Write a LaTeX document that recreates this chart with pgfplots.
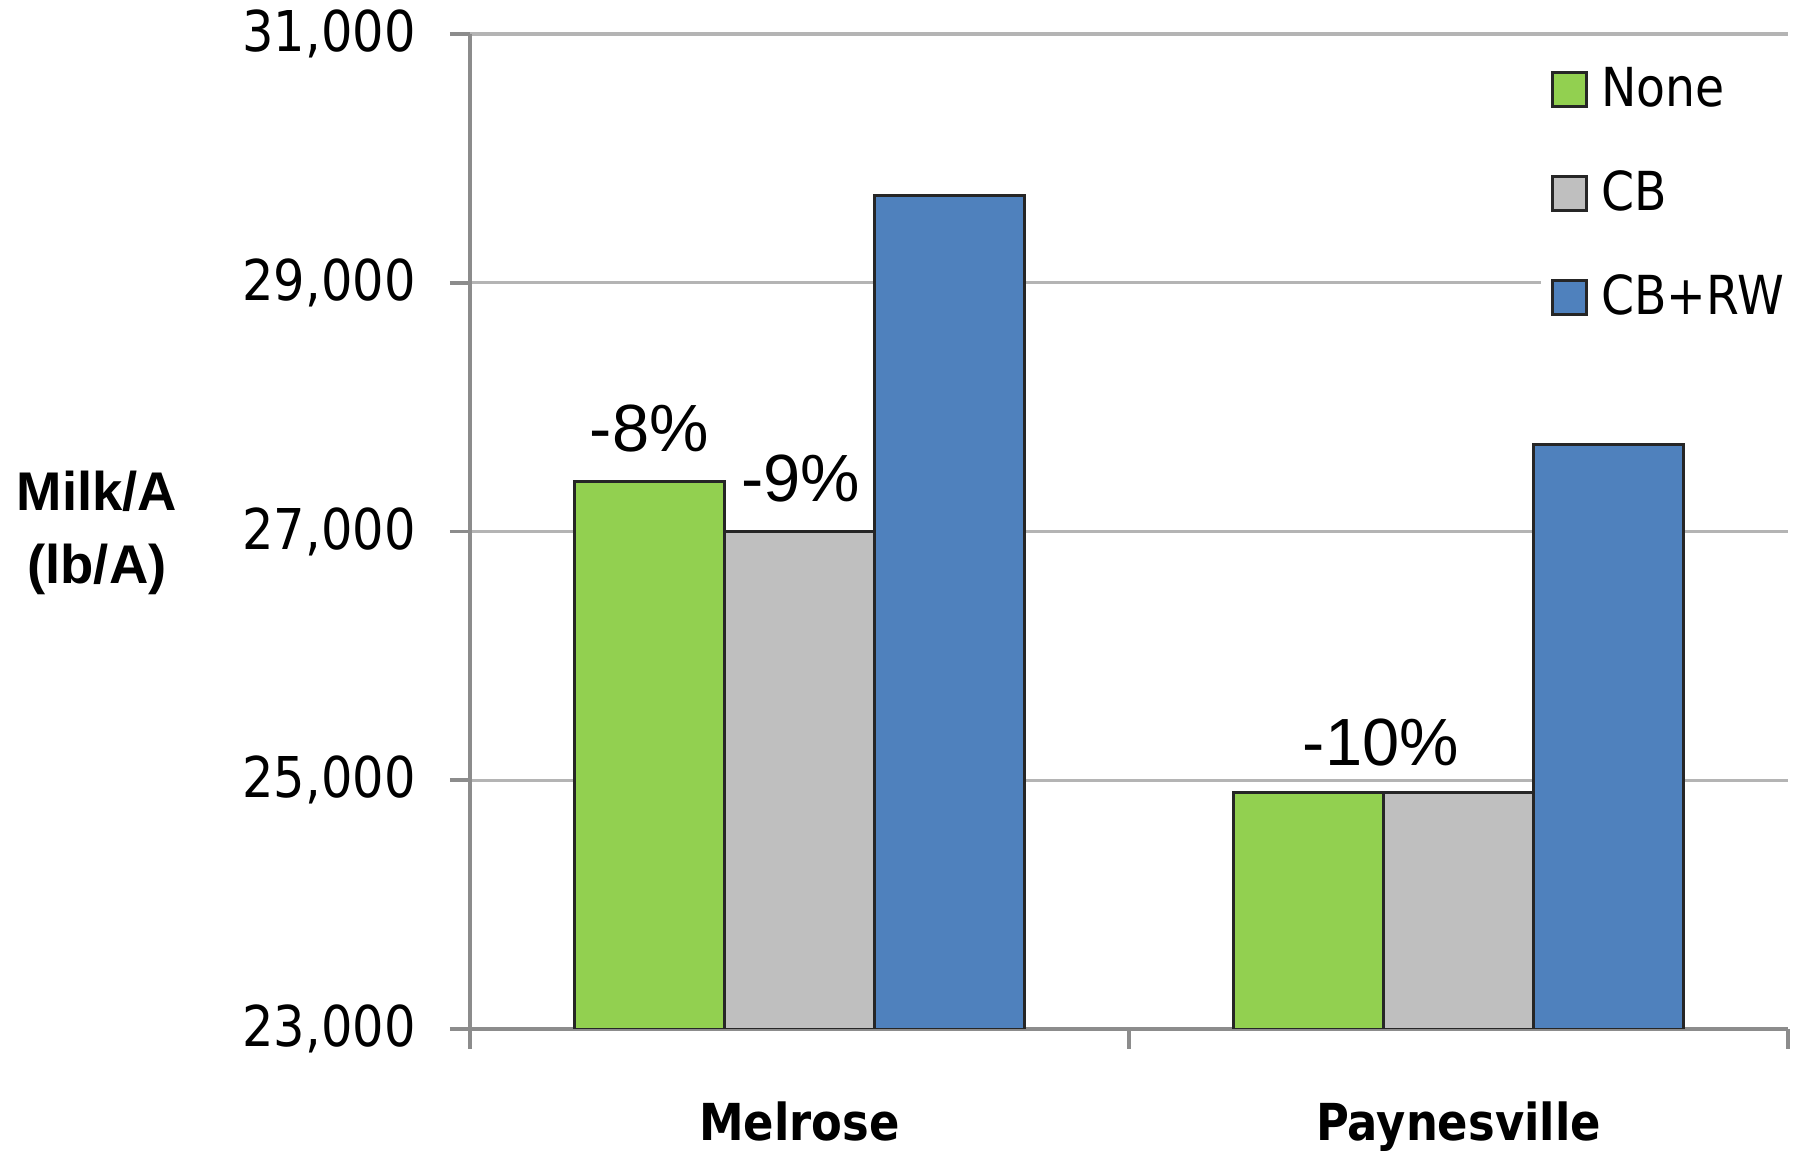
\documentclass[border=0pt]{standalone}
\usepackage{fontspec}
\usepackage{pgfplots}
\pgfplotsset{compat=1.18}
\setmainfont{Liberation Sans}
\newfontfamily\tahoma[FakeStretch=0.88]{DejaVu Sans}
\definecolor{cNone}{HTML}{92D050}
\definecolor{cCB}{HTML}{BFBFBF}
\definecolor{cRW}{HTML}{4F81BD}
\definecolor{gridc}{HTML}{B4B4B4}
\definecolor{axc}{HTML}{8C8C8C}
\pgfplotsset{sqlegend/.style={legend image code/.code={\draw[##1,draw=black!85,line width=0.8pt] (0cm,-0.17cm) rectangle (0.34cm,0.17cm); \path (0.40cm,0cm);}}}
\begin{document}
\begin{tikzpicture}
\begin{axis}[
  scale only axis,
  width=13.18cm, height=9.95cm,
  ybar=0pt, bar width=1.5cm,
  xmin=-0.5, xmax=1.5,
  ymin=23000, ymax=31000,
  xtick={-0.5,0.5,1.5},
  xticklabels={},
  extra x ticks={0,1},
  extra x tick labels={Melrose,Paynesville},
  extra x tick style={grid=none, major tick length=0pt,
     xticklabel style={font=\tahoma\bfseries\fontsize{14.5}{16}\selectfont, yshift=-0.6cm}},
  ytick={23000,25000,27000,29000,31000},
  scaled y ticks=false,
  ymajorgrids,
  grid style={gridc, line width=0.9pt},
  axis line style={axc, line width=1pt},
  axis x line*=bottom, axis y line*=left,
  tick style={axc, line width=1pt},
  tick align=outside,
  major tick length=0.2cm,
  yticklabel style={font=\tahoma\fontsize{16}{18}\selectfont, xshift=-0.22cm},
  /pgf/number format/assume math mode=true,
  /pgf/number format/.cd, 1000 sep={,}, /pgfplots/.cd,
  legend style={at={(0.812,0.985)}, anchor=north west, draw=none, fill=white,
    font=\tahoma\fontsize{15.3}{17}\selectfont, row sep=0.45cm, inner sep=3pt},
  legend cell align=left,
]
\addplot[fill=cNone, draw=black!85, line width=0.8pt, sqlegend]
  coordinates {(0,27400) (1,24900)};
\addplot[fill=cCB, draw=black!85, line width=0.8pt, sqlegend]
  coordinates {(0,27000) (1,24900)};
\addplot[fill=cRW, draw=black!85, line width=0.8pt, sqlegend]
  coordinates {(0,29700) (1,27700)};
\legend{None,CB,CB+RW}
\node[anchor=base, font=\fontsize{19}{22}\selectfont, inner sep=0pt] at (axis cs:-0.228,27640) {-8\%};
\node[anchor=base, font=\fontsize{19}{22}\selectfont, inner sep=0pt] at (axis cs:0.002,27240) {-9\%};
\node[anchor=base, font=\fontsize{19}{22}\selectfont, inner sep=0pt] at (axis cs:0.882,25120) {-10\%};
\end{axis}
\node[align=center, font=\bfseries\fontsize{15.5}{21}\selectfont] at (-3.73,4.96) {Milk/A\\(lb/A)};
\pgfresetboundingbox
\path (-4.70,-1.23) rectangle (13.27,10.29);
\end{tikzpicture}
\end{document}
